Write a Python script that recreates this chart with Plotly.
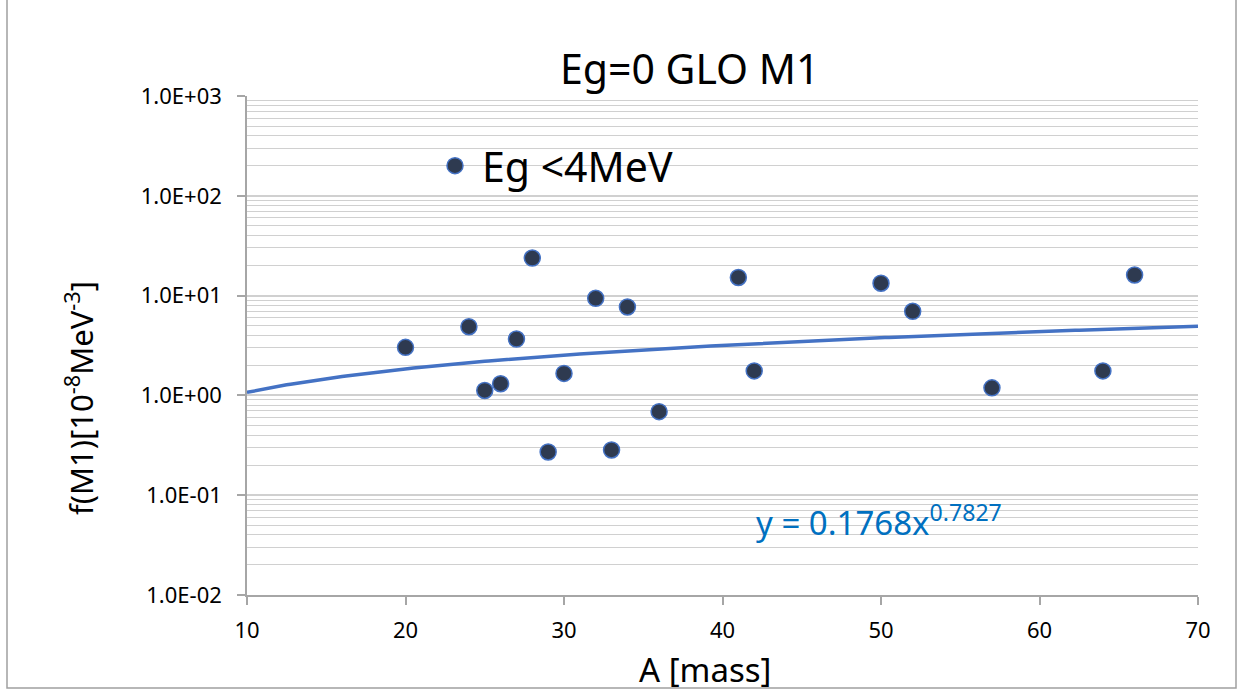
import numpy as np
import plotly.graph_objects as go

# ---- data ----
mass_A = [20, 24, 25, 26, 27, 28, 29, 30, 32, 33, 34, 36, 41, 42, 50, 52, 57, 64, 66]
f_M1 = [3.03, 4.88, 1.12, 1.31, 3.67, 23.8, 0.271, 1.66, 9.4, 0.284, 7.69, 0.687,
        15.2, 1.76, 13.3, 6.96, 1.19, 1.76, 16.1]

# power-law trendline coefficients printed on the chart
fit_a = 0.1768
fit_b = 0.7827
x_range = [10, 70]

y_tick_vals = [1e-2, 1e-1, 1e0, 1e1, 1e2, 1e3]
y_tick_text = ["1.0E-02", "1.0E-01", "1.0E+00", "1.0E+01", "1.0E+02", "1.0E+03"]
x_tick_vals = [10, 20, 30, 40, 50, 60, 70]

trend_x = np.linspace(x_range[0], x_range[1], 241)
trend_y = fit_a * trend_x ** fit_b

minor_vals = [m * 10.0 ** k for k in range(-2, 3) for m in range(2, 10)]

FONT = "Noto Sans"
GRID = "#d0d0d0"
AXIS = "#a6a6a6"

fig = go.Figure()
fig.add_trace(go.Scatter(
    x=trend_x, y=trend_y, mode="lines",
    line=dict(color="#4472c4", width=3.5),
    showlegend=False, hoverinfo="skip",
))
fig.add_trace(go.Scatter(
    x=mass_A, y=f_M1, mode="markers", name="Eg <4MeV",
    marker=dict(size=16, color="#2e3a50", line=dict(color="#4472c4", width=1.5)),
))

# plot area in pixels: left 247, right 1198, top 96, bottom 595
L, R, T, B = 247, 1198, 96, 595
W, H = 1244, 696
pw, ph = R - L, B - T


def px(xp):
    return (xp - L) / pw


def py(yp):
    return (B - yp) / ph


fig.update_layout(
    width=W, height=H,
    margin=dict(l=L, r=W - R, t=T, b=H - B),
    paper_bgcolor="white", plot_bgcolor="white",
    font=dict(family=FONT, color="#000000"),
    showlegend=True,
    legend=dict(
        x=px(428), y=py(166), xanchor="left", yanchor="middle",
        font=dict(size=41, family=FONT, color="#000000"),
        bgcolor="rgba(0,0,0,0)", itemwidth=44,
    ),
    xaxis=dict(
        range=x_range, tickvals=x_tick_vals, showgrid=False,
        showline=True, linecolor=AXIS, linewidth=1.5,
        ticks="outside", ticklen=8, tickcolor=AXIS, tickwidth=1.5,
        tickfont=dict(size=22, family=FONT, color="#000000"),
        ticklabelstandoff=7, zeroline=False,
    ),
    yaxis=dict(
        type="log", range=[-2, 3], tickvals=y_tick_vals, ticktext=y_tick_text,
        showgrid=True, gridcolor=GRID, gridwidth=1.5,
        showline=True, linecolor=AXIS, linewidth=1.5,
        ticks="outside", ticklen=8, tickcolor=AXIS, tickwidth=1.5,
        tickfont=dict(size=22, family=FONT, color="#000000"),
        ticklabelstandoff=11, zeroline=False,
        minor=dict(tickvals=minor_vals, showgrid=True, gridcolor=GRID,
                   gridwidth=1.2, ticks=""),
    ),
    annotations=[
        dict(text="Eg=0 GLO M1", x=px(689), y=py(68), xref="paper", yref="paper",
             xanchor="center", yanchor="middle", showarrow=False,
             font=dict(size=41, family=FONT, color="#000000")),
        dict(text="A [mass]", x=px(705), y=py(669), xref="paper", yref="paper",
             xanchor="center", yanchor="middle", showarrow=False,
             font=dict(size=33, family=FONT, color="#000000")),
        dict(text="f(M1)[10<sup>-8</sup>MeV<sup>-3</sup>]", x=px(80), y=py(398),
             xref="paper", yref="paper", xanchor="center", yanchor="middle",
             textangle=-90, showarrow=False,
             font=dict(size=31, family=FONT, color="#000000")),
        dict(text="y = 0.1768x<sup>0.7827</sup>", x=px(754), y=py(520),
             xref="paper", yref="paper", xanchor="left", yanchor="middle",
             showarrow=False,
             font=dict(size=33, family=FONT, color="#0070c0")),
    ],
    shapes=[
        dict(type="rect", xref="paper", yref="paper",
             x0=px(7), x1=px(1236), y0=py(688), y1=py(-2),
             line=dict(color="#a0a0a0", width=1.5), fillcolor="rgba(0,0,0,0)",
             layer="below"),
    ],
)

fig.write_html("out.html")
